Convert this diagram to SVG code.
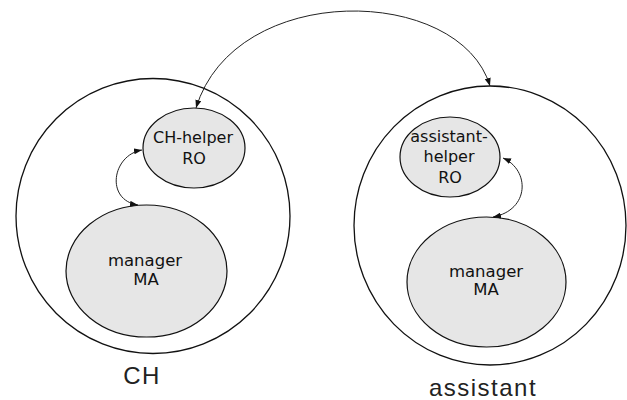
<svg xmlns="http://www.w3.org/2000/svg" width="627" height="400" viewBox="0 0 627 400">
<defs>
<style>
.outer{fill:none;stroke:#111;stroke-width:1.3}
.inner{fill:#e6e6e6;stroke:#111;stroke-width:1.2}
.lbl{font-family:"DejaVu Sans",sans-serif;font-size:16px;fill:#111;text-anchor:middle}
.cap{font-family:"Liberation Sans",Arial,sans-serif;font-size:24px;fill:#222;text-anchor:middle;letter-spacing:1.5px}
.conn{fill:none;stroke:#222;stroke-width:1;marker-start:url(#ah);marker-end:url(#ah)}
</style>
<marker id="ah" viewBox="0 0 8 6" refX="8" refY="3" markerWidth="8" markerHeight="6" markerUnits="userSpaceOnUse" orient="auto-start-reverse">
<path d="M0,0 L8,3 L0,6 z" fill="#111"/>
</marker>
</defs>
<g id="CH">
<ellipse class="outer" cx="153" cy="216" rx="137" ry="137.5"/>
<text class="cap" x="142" y="384">CH</text>
</g>
<g id="assistant">
<ellipse class="outer" cx="490" cy="225.5" rx="136" ry="139.5"/>
<text class="cap" x="483" y="396">assistant</text>
</g>
<g id="ch-helper">
<ellipse class="inner" cx="194" cy="148" rx="51" ry="40"/>
<text class="lbl" x="193" y="143">CH-helper</text>
<text class="lbl" x="194" y="164">RO</text>
</g>
<g id="ch-manager">
<ellipse class="inner" cx="146.5" cy="271" rx="80.5" ry="66"/>
<text class="lbl" x="145" y="266" style="font-size:16.5px">manager</text>
<text class="lbl" x="146" y="285" style="font-size:16.5px">MA</text>
</g>
<g id="assistant-helper">
<ellipse class="inner" cx="450" cy="157" rx="50" ry="40"/>
<text class="lbl" x="449" y="142">assistant-</text>
<text class="lbl" x="449" y="162">helper</text>
<text class="lbl" x="450" y="183">RO</text>
</g>
<g id="assistant-manager">
<ellipse class="inner" cx="486.5" cy="282" rx="79.5" ry="65"/>
<text class="lbl" x="486" y="277" style="font-size:16.5px">manager</text>
<text class="lbl" x="486" y="295" style="font-size:16.5px">MA</text>
</g>
<g id="connectors">
<path class="conn" d="M196,108 C235,-20 460,-15 490,86"/>
<path class="conn" d="M142,150 C112,155 105,200 138,205"/>
<path class="conn" d="M503,158 C530,170 530,210 493,217"/>
</g>
</svg>
